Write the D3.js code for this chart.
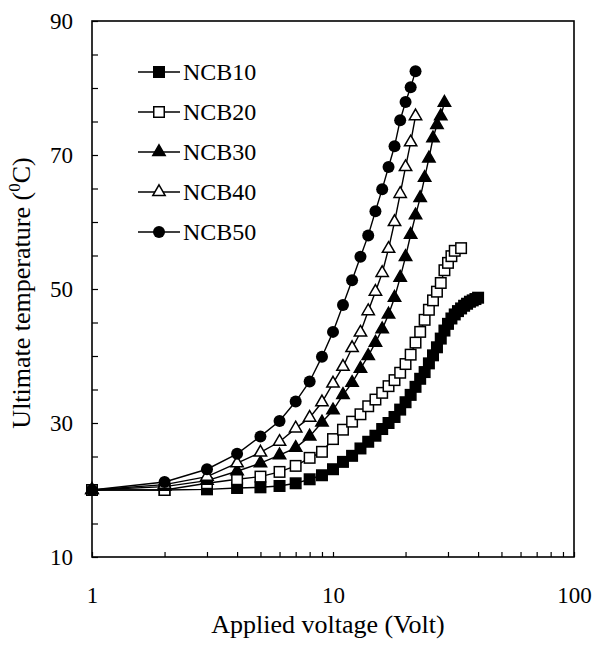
<!DOCTYPE html>
<html>
<head>
<meta charset="utf-8">
<script src="https://cdn.jsdelivr.net/npm/d3@7/dist/d3.min.js"></script>
<style>
    body { margin: 0; background: #fff; }
    svg text { font-family: "Times New Roman", "Liberation Serif", Times, serif !important; fill: #000; }
</style>
</head>
<body>
<div id="chart"></div>
<script>
// Applied voltage (V) and ultimate temperature (deg C) for each sample
const volt10 = [1, 2, 3, 4, 5, 6, 7, 8, 9, 10, 11, 12, 13, 14, 15, 16, 17, 18, 19, 20,
    21, 22, 23, 24, 25, 26, 27, 28, 29, 30, 31, 32, 33, 34, 35, 36, 37, 38, 39, 40];
const temp10 = [20.0, 20.0, 20.1, 20.3, 20.4, 20.6, 21.0, 21.6, 22.2, 23.1, 24.2, 25.1, 26.2, 27.2, 28.1, 29.1, 30.0, 30.9, 32.0, 33.1,
    34.2, 35.4, 36.6, 37.6, 38.9, 40.1, 41.3, 42.6, 43.8, 44.8, 45.6, 46.2, 46.7, 47.1, 47.5, 47.8, 48.1, 48.3, 48.5, 48.7];

const volt20 = [1, 2, 3, 4, 5, 6, 7, 8, 9, 10, 11, 12, 13, 14, 15, 16, 17, 18, 19, 20,
    21, 22, 23, 24, 25, 26, 27, 28, 29, 30, 31, 32, 34];
const temp20 = [20.0, 20.0, 21.0, 21.6, 22.0, 22.7, 23.6, 24.8, 25.7, 27.6, 29.0, 30.2, 31.3, 32.5, 33.5, 34.5, 35.5, 36.4, 37.5, 38.8,
    40.2, 42.0, 43.6, 45.4, 46.9, 48.3, 49.6, 50.9, 52.8, 53.9, 54.9, 55.7, 56.1];

const volt30 = [1, 2, 3, 4, 5, 6, 7, 8, 9, 10, 11, 12, 13, 14, 15, 16, 17, 18, 19, 20,
    21, 22, 23, 24, 25, 26, 27, 28, 29];
const temp30 = [20.0, 20.5, 21.4, 22.8, 24.0, 25.2, 26.3, 28.0, 30.1, 31.9, 34.2, 36.0, 38.1, 40.0, 42.0, 44.0, 46.2, 48.7, 51.7, 54.8,
    58.1, 61.0, 63.6, 66.6, 69.5, 72.5, 74.5, 75.8, 77.8];

const volt40 = [1, 2, 3, 4, 5, 6, 7, 8, 9, 10, 11, 12, 13, 14, 15, 16, 17, 18, 19, 20, 21, 22];
const temp40 = [20.0, 20.8, 22.0, 24.0, 25.6, 27.2, 29.2, 30.8, 33.1, 35.9, 38.4, 41.2, 43.5, 46.7, 49.6, 52.4, 56.0, 60.0, 64.2, 68.2,
    71.9, 75.8];

const volt50 = [1, 2, 3, 4, 5, 6, 7, 8, 9, 10, 11, 12, 13, 14, 15, 16, 17, 18, 19, 20, 21, 22];
const temp50 = [20.0, 21.2, 23.1, 25.4, 28.0, 30.3, 33.2, 36.2, 39.9, 43.6, 47.6, 51.3, 54.8, 58.0, 61.6, 64.9, 68.2, 71.3, 75.2, 77.9,
    80.1, 82.5];

const seriesNames = ["NCB10", "NCB20", "NCB30", "NCB40", "NCB50"];
const seriesMarkers = ["square", "squareOpen", "triangle", "triangleOpen", "circle"];

const xTickValues = [1, 2, 3, 4, 5, 6, 7, 8, 9, 10, 20, 30, 40, 50, 60, 70, 80, 90, 100];
const xTickLabels = [1, 10, 100];
const yTickValues = [10, 15, 20, 25, 30, 35, 40, 45, 50, 55, 60, 65, 70, 75, 80, 85, 90];
const yTickLabels = [10, 30, 50, 70, 90];

// Build series table
const allVolts = [volt10, volt20, volt30, volt40, volt50];
const allTemps = [temp10, temp20, temp30, temp40, temp50];
const series = seriesNames.map((name, i) => ({
    name: name,
    marker: seriesMarkers[i],
    values: allVolts[i].map((v, j) => ({volt: v, temp: allTemps[i][j]}))
}));

// Set dimensions and margins
const margin = {top: 21, right: 20, bottom: 91, left: 92};
const width = 594 - margin.left - margin.right;
const height = 648 - margin.top - margin.bottom;

const svg = d3.select("#chart")
    .append("svg")
    .attr("width", 594)
    .attr("height", 648)
    .append("g")
    .attr("transform", "translate(" + margin.left + "," + margin.top + ")");

// Scales
const x = d3.scaleLog()
    .domain([1, 100])
    .range([0, width]);

const y = d3.scaleLinear()
    .domain([10, 90])
    .range([height, 0]);

// X axis, ticks pointing inward
const xAxisGroup = svg.append("g")
    .attr("transform", "translate(0," + height + ")")
    .call(d3.axisBottom(x)
        .tickValues(xTickValues)
        .tickSizeInner(-5)
        .tickSizeOuter(0)
        .tickPadding(30)
        .tickFormat(d => xTickLabels.includes(d) ? d : ""));

// Y axis
const yAxisGroup = svg.append("g")
    .call(d3.axisLeft(y)
        .tickValues(yTickValues)
        .tickSizeInner(-6)
        .tickSizeOuter(0)
        .tickPadding(19)
        .tickFormat(d => yTickLabels.includes(d) ? d : ""));

[xAxisGroup, yAxisGroup].forEach(g => {
    g.attr("font-family", null);
    g.selectAll("text")
        .style("font-size", "23px")
        .attr("fill", "#000");
    g.selectAll("line").attr("stroke", "#000").attr("stroke-width", 1.2);
    g.select(".domain").remove();
});

// Frame
svg.append("rect")
    .attr("width", width)
    .attr("height", height)
    .attr("fill", "none")
    .attr("stroke", "#000")
    .attr("stroke-width", 1.6);

// X axis label
svg.append("text")
    .attr("x", 236)
    .attr("y", height + 76)
    .attr("text-anchor", "middle")
    .style("font-size", "26px")
    .text("Applied voltage (Volt)");

// Y axis label
const yLabel = svg.append("text")
    .attr("transform", "rotate(-90)")
    .attr("x", -272)
    .attr("y", -62)
    .attr("text-anchor", "middle")
    .style("font-size", "26px");
yLabel.append("tspan").text("Ultimate temperature (");
yLabel.append("tspan").attr("dy", -10).style("font-size", "17px").text("0");
yLabel.append("tspan").attr("dy", 10).text("C)");

// Marker drawing helper
function drawMarker(g, type) {
    const filled = !type.endsWith("Open");
    const fill = filled ? "#000" : "#fff";
    if (type.startsWith("square")) {
        g.append("rect")
            .attr("x", -5.25).attr("y", -5.25)
            .attr("width", 10.5).attr("height", 10.5)
            .attr("fill", fill).attr("stroke", "#000").attr("stroke-width", 1.5);
    } else if (type.startsWith("triangle")) {
        g.append("path")
            .attr("d", d3.symbol(d3.symbolTriangle, 66)())
            .attr("fill", fill).attr("stroke", "#000").attr("stroke-width", 1.5);
    } else {
        g.append("circle")
            .attr("r", 6)
            .attr("fill", fill);
    }
}

// Lines and markers
const line = d3.line()
    .x(d => x(d.volt))
    .y(d => y(d.temp));

series.forEach(s => {
    svg.append("path")
        .datum(s.values)
        .attr("fill", "none")
        .attr("stroke", "#000")
        .attr("stroke-width", 1.4)
        .attr("d", line);

    svg.append("g")
        .selectAll("g")
        .data(s.values)
        .enter()
        .append("g")
        .attr("transform", d => "translate(" + x(d.volt) + "," + y(d.temp) + ")")
        .each(function () { drawMarker(d3.select(this), s.marker); });
});

// Legend
const legend = svg.append("g")
    .attr("transform", "translate(46,51)");

series.forEach((s, i) => {
    const item = legend.append("g")
        .attr("transform", "translate(0," + i * 40 + ")");

    item.append("line")
        .attr("x1", 0)
        .attr("x2", 42)
        .attr("stroke", "#000")
        .attr("stroke-width", 1.4);

    const m = item.append("g").attr("transform", "translate(21,0)");
    drawMarker(m, s.marker);

    item.append("text")
        .attr("x", 45)
        .attr("y", 8)
        .style("font-size", "24px")
        .text(s.name);
});
</script>
</body>
</html>
